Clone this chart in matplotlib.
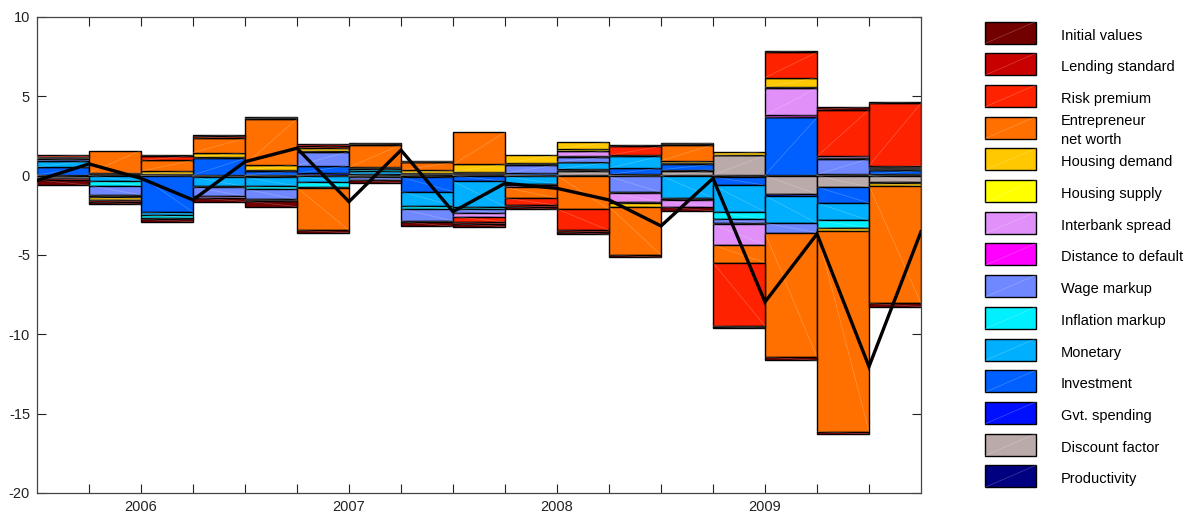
import numpy as np
import matplotlib.pyplot as plt
from matplotlib.patches import Rectangle

plt.rcParams['font.family'] = ['Liberation Sans', 'DejaVu Sans']
plt.rcParams['axes.unicode_minus'] = False

# quarters 2005Q3 .. 2009Q4 (first one is only the start of the line)
periods = [f"{y}Q{q}" for y in range(2005, 2010) for q in range(1, 5)][2:]

# shock contributions, one value per quarter 2005Q4 .. 2009Q4
productivity = [0.05, 0.05, 0.03, 0.04, 0.03, 0.04, 0.03, 0.05, 0.03, 0.03, 0.03, 0.03, 0.02, 0.03, 0.04, 0.03, 0.03]
discount = [-0.12, 0.08, 0.06, -0.05, -0.1, -0.05, -0.05, 0.03, 0.05, -0.05, 0.25, -0.05, 0.3, 1.25, -1.17, -0.72, -0.38]
gvt_spending = [-0.03, 0.0, -0.03, -0.03, 0.02, 0.1, -0.03, -0.1, 0.05, 0.03, 0.05, 0.05, 0.05, -0.08, -0.1, 0.05, 0.05]
investment = [0.5, 0.05, -2.27, 1.05, 0.25, 0.5, 0.1, -0.9, -0.35, 0.1, 0.08, 0.4, 0.35, -0.52, 3.63, -1.0, 0.25]
monetary = [0.4, -0.35, -0.15, -0.6, -0.55, -0.35, 0.15, -0.9, -1.6, -0.47, 0.42, 0.75, -1.4, -1.68, -1.72, -1.1, 0.05]
inflation_markup = [-0.02, -0.27, -0.2, -0.05, -0.2, -0.3, 0.15, -0.2, -0.15, -0.05, 0.05, 0.05, -0.05, -0.47, 0.04, -0.45, 0.05]
wage_markup = [0.12, -0.6, -0.1, -0.55, -0.65, 0.88, -0.17, -0.75, -0.28, 0.52, 0.3, -1.0, -0.1, -0.25, -0.6, 0.98, 0.05]
distance_default = [0.0, -0.05, 0.0, 0.0, -0.05, -0.05, 0.0, 0.05, 0.05, 0.05, 0.05, -0.05, 0.05, -0.05, 0.1, 0.05, 0.05]
interbank = [0.03, -0.1, 0.0, -0.1, -0.05, 0.0, -0.03, -0.05, -0.2, -0.17, 0.35, -0.55, -0.42, -1.32, 1.72, 0.1, 0.1]
housing_supply = [0.0, 0.0, 0.03, 0.06, 0.05, 0.05, 0.05, 0.05, 0.05, 0.05, 0.1, -0.05, 0.05, 0.03, 0.05, -0.05, -0.1]
housing_demand = [0.05, -0.15, 0.17, 0.3, 0.35, 0.15, 0.05, 0.15, 0.48, 0.52, 0.45, -0.25, 0.12, 0.2, 0.6, -0.18, -0.15]
net_worth = [0.03, 1.4, 0.67, 0.9, 2.88, -2.7, 1.42, 0.5, 2.02, -0.68, -2.1, -3.05, 1.0, -1.11, -7.85, -12.63, -7.42]
risk_premium = [0.12, -0.03, 0.3, 0.12, 0.04, 0.18, 0.05, 0.05, -0.35, -0.45, -1.35, 0.57, 0.07, -3.99, 1.6, 2.95, 3.93]
lending = [-0.1, -0.1, 0.06, 0.1, 0.06, 0.1, 0.07, 0.04, -0.1, -0.1, -0.1, 0.1, 0.03, -0.05, 0.1, -0.15, 0.1]
initial = [-0.33, -0.15, -0.15, -0.25, -0.35, -0.15, -0.17, -0.3, -0.18, -0.15, -0.15, -0.15, -0.25, -0.08, -0.2, 0.17, -0.2]

# observed series (black line), 2005Q3 .. 2009Q4
observed = [-0.3, 0.74, -0.17, -1.53, 0.88, 1.73, -1.64, 1.61, -2.27, -0.48, -0.8, -1.53, -3.17, -0.17, -7.96, -3.67, -12.03, -3.53]

# stacking order: closest to zero first
labels = ["Productivity", "Discount factor", "Gvt. spending", "Investment", "Monetary",
          "Inflation markup", "Wage markup", "Distance to default", "Interbank spread",
          "Housing supply", "Housing demand", "Entrepreneur\nnet worth", "Risk premium",
          "Lending standard", "Initial values"]
colors = ["#000080", "#bbaaaa", "#0010ff", "#0060ff", "#00b0ff", "#00f0ff", "#7088ff",
          "#ff00ff", "#e090f8", "#ffff00", "#ffc800", "#ff7000", "#ff2200", "#c80000", "#720000"]

contrib = np.array([productivity, discount, gvt_spending, investment, monetary, inflation_markup,
                    wage_markup, distance_default, interbank, housing_supply, housing_demand,
                    net_worth, risk_premium, lending, initial])

fig = plt.figure(figsize=(11.9, 5.21), dpi=100)
ax = fig.add_axes([37 / 1190, 28 / 521, 884 / 1190, 476 / 521])

n = contrib.shape[1]
xc = np.arange(1, n + 1) - 0.5
pos_base = np.zeros(n)
neg_base = np.zeros(n)
patches = []
for vals, col in zip(contrib, colors):
    for sign_mask, base in ((vals > 0, pos_base), (vals < 0, neg_base)):
        if not sign_mask.any():
            continue
        bars = ax.bar(xc[sign_mask], vals[sign_mask], width=1.0, bottom=base[sign_mask],
                      color=col, edgecolor="black", linewidth=1.0, zorder=2)
        patches.extend(bars.patches)
        base[sign_mask] += vals[sign_mask]

# faint diagonals inside each patch, like the original renderer
for p in patches:
    x0, y0, w, h = p.get_x(), p.get_y(), p.get_width(), p.get_height()
    ax.plot([x0, x0 + w], [y0, y0 + h], color="white", lw=0.5, alpha=0.25, zorder=3)

ax.plot(np.arange(len(observed)), observed, color="black", lw=2.4, zorder=5,
        solid_joinstyle="miter")

ax.set_xlim(0, n)
ax.set_ylim(-20, 10)
ax.set_yticks(np.arange(-20, 11, 5))
ax.set_xticks(np.arange(1, n))
ax.set_xticklabels([p[:4] if p.endswith("Q1") else "" for p in periods[1:n]])
ax.tick_params(direction="in", length=6.5, width=0.8, top=True, right=True,
               labelsize=10.5, colors="#222222", pad=5)
for s in ax.spines.values():
    s.set_color("#444444")
    s.set_linewidth(0.9)

# legend drawn by hand on the right, top entry = Initial values
lg = fig.add_axes([0, 0, 1, 1], facecolor="none")
lg.set_xlim(0, 1190)
lg.set_ylim(521, 0)
lg.axis("off")
for i, (lab, col) in enumerate(zip(labels[::-1], colors[::-1])):
    top = 21.5 + i * 31.7
    lg.add_patch(Rectangle((985, top), 51, 22, facecolor=col, edgecolor="black", lw=1.0))
    lg.plot([985, 1036], [top + 22, top], color="white", lw=0.5, alpha=0.25)
    lg.text(1061, top + 14, lab, va="center", ha="left", fontsize=10.5, linespacing=1.45)

fig.savefig("out.png", dpi=100)
